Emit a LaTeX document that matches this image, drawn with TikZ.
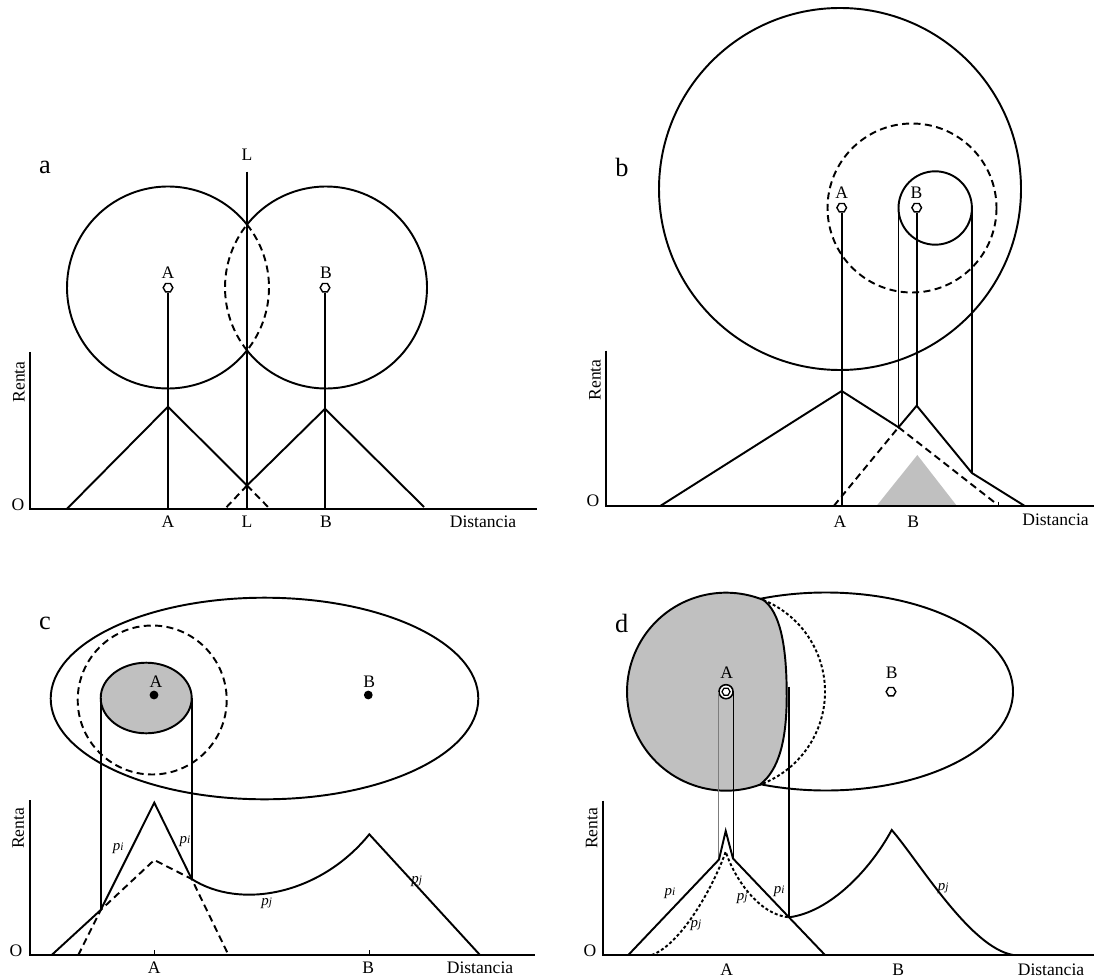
\documentclass[tikz,border=0pt]{standalone}
\usepackage{fontspec}
\setmainfont{Liberation Serif}
\usetikzlibrary{shapes.geometric,positioning,calc}
\definecolor{shd}{RGB}{192,192,192}
\definecolor{thn}{RGB}{125,125,125}
\newcommand{\pvar}[1]{\textit{p}{\fontsize{6.5}{7}\selectfont\textit{#1}}}

\begin{document}
\begin{tikzpicture}[x=0.02cm,y=-0.02cm,
    ln/.style={line width=1.1pt,line join=miter},
    ax/.style={line width=1.35pt},
    dsh/.style={line width=1.1pt,dash pattern=on 4pt off 2.5pt},
    dot/.style={line width=1.1pt,dash pattern=on 1.7pt off 1.3pt},
    hexm/.style={regular polygon,regular polygon sides=6,draw,line width=0.8pt,fill=white,minimum size=5.5pt,inner sep=0pt},
    dotm/.style={circle,fill=black,minimum size=5pt,inner sep=0pt},
    lbl/.style={font=\fontsize{10}{12}\selectfont,inner sep=0pt},
    pnl/.style={font=\fontsize{15}{18}\selectfont,inner sep=0pt},
    sub/.style={font=\fontsize{8.5}{10}\selectfont,inner sep=0pt},
]
\useasboundingbox (0,0) rectangle (1094,979);

% Panel a
\node[pnl] (pa) at (45,167) {a};
\coordinate (caA) at (168,287.5);
\coordinate (caB) at (326,287.5);
\draw[ln] (caA) ++(38.5:101) arc[start angle=38.5,end angle=321.5,radius=101];
\draw[dsh] (caA) ++(-38.5:101) arc[start angle=-38.5,end angle=38.5,radius=101];
\draw[ln] (caB) ++(218.5:101) arc[start angle=218.5,end angle=501.5,radius=101];
\draw[dsh] (caB) ++(141.5:101) arc[start angle=141.5,end angle=218.5,radius=101];
\coordinate (aO) at (30,509.3);
\coordinate (aA) at (168,509.3);
\coordinate (aL) at (247,509.3);
\coordinate (aB) at (325,509.3);
\coordinate (aLt) at (247,171.7);
\draw[ln] (aLt) -- (aL);
\node[hexm] (maA) at (168,287.7) {};
\node[hexm] (maB) at (325,287.7) {};
\draw[ln] (maA) -- (aA);
\draw[ln] (maB) -- (aB);
\draw[ln] (66.5,509.3) -- (168,406.7) -- (247,485.5) -- (325,408.8) -- (424,507);
\draw[dsh] (247,485.5) -- (270.3,509.3);
\draw[dsh] (247,485.5) -- (224.5,509.3);
\draw[ax] (30,352) -- (aO) -- (537,509.3);
\node[lbl] (taA) at (168,273) {A};
\node[lbl] (taB) at (326,273) {B};
\node[lbl] (taL) at (247,155) {L};
\node[lbl] (xaA) at (168,522) {A};
\node[lbl] (xaL) at (247,522) {L};
\node[lbl] (xaB) at (326,522) {B};
\node[lbl] (xaD) at (483,522) {Distancia};
\node[lbl] (xaO) at (18,505) {O};
\node[lbl,rotate=90] (yaR) at (19,382) {Renta};

% Panel b
\node[pnl] (pb) at (622,167) {b};
\draw[ln] (840,189) circle[radius=181];
\draw[dsh] (912,208) circle[radius=84.5];
\draw[ln] (935.2,208) circle[radius=36.7];
\coordinate (bO) at (606,505.7);
\coordinate (bA) at (841.7,505.7);
\coordinate (bK) at (898.5,427.3);
\coordinate (bP) at (916.7,405.7);
\coordinate (bR) at (971.9,473);
\fill[shd] (876.7,505.7) -- (917.3,455) -- (956.7,505.7) -- cycle;
\node[hexm] (mbA) at (841.7,207.7) {};
\node[hexm] (mbB) at (916.7,207.7) {};
\draw[ln] (mbA) -- (bA);
\draw[ln] (mbB) -- (bP);
\draw[ln] (898.5,208) -- (bK);
\draw[ln] (971.9,208) -- (bR);
\draw[ln] (660.7,505.7) -- (841.7,391) -- (bK) -- (bP) -- (bR) -- (1024.3,505.7);
\draw[dsh] (834,505.7) -- (bK);
\draw[dsh] (bK) -- (996,503.5);
\draw[line width=0.6pt] (998.5,501.5) -- (998.5,505.7);
\draw[ax] (606,350.7) -- (bO) -- (1094,505.7);
\node[lbl] (tbA) at (841.7,193) {A};
\node[lbl] (tbB) at (916.5,193) {B};
\node[lbl] (xbA) at (840,521.5) {A};
\node[lbl] (xbB) at (913.3,521.5) {B};
\node[lbl] (xbD) at (1055.5,520) {Distancia};
\node[lbl] (xbO) at (593,501) {O};
\node[lbl,rotate=90] (ybR) at (595,380) {Renta};

% Panel c
\node[pnl] (pc) at (45,623.3) {c};
\draw[ln] (264.5,698.5) ellipse[x radius=213.8,y radius=100.8];
\draw[dsh] (152.2,700) circle[radius=74.5];
\draw[ln,fill=shd] (146.2,698) ellipse[x radius=45.5,y radius=35.3];
\node[dotm] (mcA) at (154,695) {};
\node[dotm] (mcB) at (368.3,695) {};
\coordinate (cO) at (30,955);
\coordinate (cL) at (100.7,910);
\coordinate (cR) at (191.7,879);
\coordinate (cP) at (369.3,834.3);
\draw[ln] (100.7,698) -- (cL);
\draw[ln] (191.7,698) -- (cR);
\draw[ln] (51.7,955) -- (cL) -- (154.3,802.7) -- (cR)
    .. controls (240,910) and (320,895) .. (cP) -- (480,955);
\draw[dsh] (78.3,955) -- (cL) -- (154.3,860) -- (cR) -- (228.5,955);
\draw[line width=0.8pt] (154.3,950) -- (154.3,955);
\draw[line width=0.8pt] (369.3,950) -- (369.3,955);
\draw[ax] (30,800) -- (cO) -- (535,955);
\node[lbl] (tcA) at (156,681.7) {A};
\node[lbl] (tcB) at (369.3,681.7) {B};
\node[sub] (pc1) at (118.3,848.3) {\pvar{i}};
\node[sub] (pc2) at (185,841.7) {\pvar{i}};
\node[sub] (pc3) at (266.7,903.3) {\pvar{j}};
\node[sub] (pc4) at (416.7,881.7) {\pvar{j}};
\node[lbl] (xcA) at (154.3,967.5) {A};
\node[lbl] (xcB) at (368.3,967.5) {B};
\node[lbl] (xcD) at (480,967.5) {Distancia};
\node[lbl] (xcO) at (16,950.7) {O};
\node[lbl,rotate=90] (ycR) at (18.3,828.3) {Renta};

% Panel d
\node[pnl] (pd) at (621.7,623.3) {d};
\coordinate (cdA) at (726,691.7);
\draw[ln] (826,691.5) ellipse[x radius=187,y radius=99];
\draw[dot] (cdA) ++(-67.9:99) arc[start angle=-67.9,end angle=70,radius=99];
\draw[ln,fill=shd] (759.9,784.7) arc[start angle=70,end angle=292.1,radius=99]
    .. controls (780,612) and (786.5,645) .. (786.7,693)
    .. controls (787,740) and (779,770) .. (759.9,784.7) -- cycle;
\coordinate (dO) at (603.3,955);
\coordinate (dL) at (719,859.5);
\coordinate (dT) at (725.7,831);
\coordinate (dR) at (733,858.5);
\coordinate (dK) at (789,917.3);
\coordinate (dP) at (891.7,830);
\coordinate (dQ) at (725.7,851.7);
\node[circle,draw,line width=0.9pt,fill=white,minimum size=8pt,inner sep=0pt] (mdA) at (cdA) {};
\draw[thn,line width=0.7pt] (mdA.west) -- (mdA.west |- dL);
\draw[line width=0.5pt] (mdA.east) -- (mdA.east |- dR);
\node[hexm,minimum size=4.6pt,line width=0.7pt] (mdA2) at (cdA) {};
\node[hexm] (mdB) at (891,691.7) {};
\draw[ln] (789,686.7) -- (dK);
\draw[ln] (628.3,955) -- (dL) -- (dT) -- (dR) -- (dK) -- (825,955);
\draw[ln] (dK) .. controls (830,912) and (870,870) .. (dP)
    .. controls (918,860) and (970,948) .. (1013.3,955);
\draw[dot] (651.7,955) .. controls (680,945) and (712,890) .. (dQ)
    .. controls (735,880) and (760,915) .. (dK);
\draw[ax] (603.3,800.7) -- (dO) -- (1094,955);
\node[lbl] (tdA) at (726.7,672.7) {A};
\node[lbl] (tdB) at (891.7,672.3) {B};
\node[sub] (pd1) at (670,893.3) {\pvar{i}};
\node[sub] (pd2) at (696,925) {\pvar{j}};
\node[sub] (pd3) at (742.3,898.3) {\pvar{j}};
\node[sub] (pd4) at (779.3,891.7) {\pvar{i}};
\node[sub] (pd5) at (943.3,888.3) {\pvar{j}};
\node[lbl] (xdA) at (726.7,969.3) {A};
\node[lbl] (xdB) at (898.3,969.3) {B};
\node[lbl] (xdD) at (1051,969.3) {Distancia};
\node[lbl] (xdO) at (590,950.7) {O};
\node[lbl,rotate=90] (ydR) at (591.7,828.3) {Renta};
\end{tikzpicture}
\end{document}
